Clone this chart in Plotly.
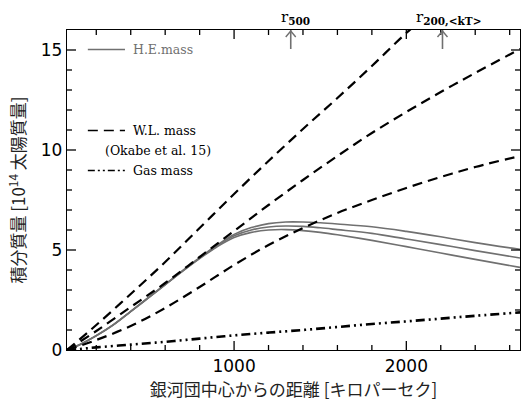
import plotly.graph_objects as go

# ---- data (kpc, 10^14 solar masses) ----
r_he = [30, 100, 200, 300, 400, 500, 600, 700, 800, 900, 1000, 1100, 1200, 1300, 1400, 1500, 1600, 1800, 2000, 2200, 2400, 2660]
he_top = [0, 0.25, 0.72, 1.27, 1.93, 2.6, 3.28, 3.96, 4.62, 5.24, 5.78, 6.12, 6.32, 6.4, 6.4, 6.36, 6.3, 6.16, 5.93, 5.66, 5.37, 5.03]
he_mid = [0, 0.25, 0.72, 1.27, 1.93, 2.6, 3.27, 3.95, 4.6, 5.2, 5.71, 6.0, 6.15, 6.2, 6.18, 6.11, 6.02, 5.83, 5.55, 5.27, 4.97, 4.6]
he_low = [0, 0.25, 0.71, 1.26, 1.92, 2.59, 3.26, 3.93, 4.57, 5.15, 5.62, 5.88, 6.0, 6.02, 5.97, 5.88, 5.76, 5.48, 5.17, 4.85, 4.53, 4.13]

r_wl = [30, 200, 400, 600, 800, 1000, 1200, 1400, 1600, 1800, 2000, 2200, 2400, 2660]
wl_upper = [0, 1.25, 2.8, 4.4, 6.1, 7.8, 9.45, 11.05, 12.6, 14.2, 15.85, 17.3, 18.8, 20.6]
wl_mid = [0, 0.95, 2.15, 3.35, 4.65, 5.95, 7.25, 8.5, 9.7, 10.85, 11.9, 12.9, 13.85, 15.05]
wl_lower = [0, 0.5, 1.2, 2.1, 3.15, 4.25, 5.25, 6.1, 6.85, 7.5, 8.1, 8.65, 9.15, 9.7]

r_gas = [30, 100, 200, 400, 600, 800, 1000, 1200, 1400, 1600, 1800, 2000, 2200, 2400, 2660]
gas = [0, 0.05, 0.13, 0.27, 0.41, 0.57, 0.73, 0.87, 1.0, 1.15, 1.3, 1.43, 1.57, 1.71, 1.88]

marker_r = [1329, 2210]
marker_labels = ["r<sub><b>500</b></sub>", "r<sub><b>200,&lt;kT&gt;</b></sub>"]
marker_shift = [-12, -28]

x_range = [30, 2660]
y_range = [0, 16]
x_major_ticks = [1000, 2000]
x_minor_ticks = [200, 400, 600, 800, 1200, 1400, 1600, 1800, 2200, 2400, 2600]
y_major_ticks = [5, 10, 15]
y_minor_ticks = [1, 2, 3, 4, 6, 7, 8, 9, 11, 12, 13, 14]

GREY = "#707070"
WL_DASH = "10px,6px"
GAS_DASH = "9px,4px,2px,4px,2px,4px"

fig = go.Figure()
for yv in (he_top, he_mid, he_low):
    fig.add_trace(go.Scatter(x=r_he, y=yv, mode="lines", line=dict(color=GREY, width=1.6, shape="spline"),
                             showlegend=False, hoverinfo="skip"))
for yv in (wl_upper, wl_mid, wl_lower):
    fig.add_trace(go.Scatter(x=r_wl, y=yv, mode="lines", line=dict(color="black", width=2.2, dash=WL_DASH, shape="spline"),
                             showlegend=False, hoverinfo="skip"))
fig.add_trace(go.Scatter(x=r_gas, y=gas, mode="lines", line=dict(color="black", width=2.6, dash=GAS_DASH, shape="spline"),
                         showlegend=False, hoverinfo="skip"))

# inside tick marks on all four sides
tick_line = dict(color="black", width=1.3)
for tv, ln in [(t, 9) for t in x_major_ticks] + [(t, 5) for t in x_minor_ticks]:
    fig.add_shape(type="line", xref="x", yref="y", x0=tv, x1=tv, ysizemode="pixel", yanchor=y_range[0],
                  y0=0, y1=ln, line=tick_line)
    fig.add_shape(type="line", xref="x", yref="y", x0=tv, x1=tv, ysizemode="pixel", yanchor=y_range[1],
                  y0=0, y1=-ln, line=tick_line)
for tv, ln in [(t, 9) for t in y_major_ticks] + [(t, 5) for t in y_minor_ticks]:
    fig.add_shape(type="line", xref="x", yref="y", y0=tv, y1=tv, xsizemode="pixel", xanchor=x_range[0],
                  x0=0, x1=ln, line=tick_line)
    fig.add_shape(type="line", xref="x", yref="y", y0=tv, y1=tv, xsizemode="pixel", xanchor=x_range[1],
                  x0=0, x1=-ln, line=tick_line)

# r500 / r200 arrows and labels
for xv, lab, sh in zip(marker_r, marker_labels, marker_shift):
    fig.add_shape(type="line", xref="x", yref="y", x0=xv, x1=xv, ysizemode="pixel", yanchor=y_range[1],
                  y0=0, y1=-19, line=dict(color=GREY, width=1.6))
    fig.add_shape(type="path", xref="x", yref="y", xsizemode="pixel", xanchor=xv,
                  ysizemode="pixel", yanchor=y_range[1], path="M-5,-7 L0,-1 L5,-7",
                  line=dict(color=GREY, width=1.4))
    fig.add_annotation(x=xv, y=1, xref="x", yref="paper", xanchor="left", yanchor="bottom",
                       xshift=sh, yshift=1, showarrow=False, text=lab,
                       font=dict(family="DejaVu Serif", size=15, color="black"))

# manual legend
leg_font = dict(family="DejaVu Serif", size=12.5)
legend_items = [
    (0.939, GREY, "solid", 1.3, "H.E.mass", GREY),
    (0.686, "black", WL_DASH, 1.6, "W.L. mass", "black"),
    (0.561, "black", "7px,3px,2px,3px,2px,3px", 1.6, "Gas mass", "black"),
]
for yp, col, dash, w, txt, tcol in legend_items:
    fig.add_shape(type="line", xref="paper", yref="paper", x0=0.046, x1=0.128, y0=yp, y1=yp,
                  line=dict(color=col, width=w, dash=dash))
    fig.add_annotation(x=0.142, y=yp, xref="paper", yref="paper", xanchor="left", yanchor="middle",
                       showarrow=False, text=txt, font=dict(color=tcol, **leg_font))
fig.add_annotation(x=0.08, y=0.623, xref="paper", yref="paper", xanchor="left", yanchor="middle",
                   showarrow=False, text="(Okabe et al. 15)", font=dict(color="black", **leg_font))

axis_common = dict(showline=True, linecolor="black", linewidth=1.3, mirror=True, ticks="",
                   showgrid=False, zeroline=False,
                   tickfont=dict(family="DejaVu Sans", size=17, color="black"))
title_font = dict(family="Noto Sans CJK JP", size=17, color="#222")

fig.update_layout(
    xaxis=dict(range=x_range, tickmode="array", tickvals=x_major_ticks,
               ticktext=[str(t) for t in x_major_ticks],
               title=dict(text="銀河団中心からの距離 [キロパーセク]", standoff=8, font=title_font),
               **axis_common),
    yaxis=dict(range=y_range, tickmode="array", tickvals=[0] + y_major_ticks,
               ticktext=[str(t) for t in [0] + y_major_ticks],
               title=dict(text="積分質量 [10<sup>14</sup> 太陽質量]", standoff=10, font=title_font),
               **axis_common),
    width=521, height=407, margin=dict(l=67, r=1, t=30, b=57),
    paper_bgcolor="white", plot_bgcolor="white", showlegend=False,
)
fig.write_html("out.html")
